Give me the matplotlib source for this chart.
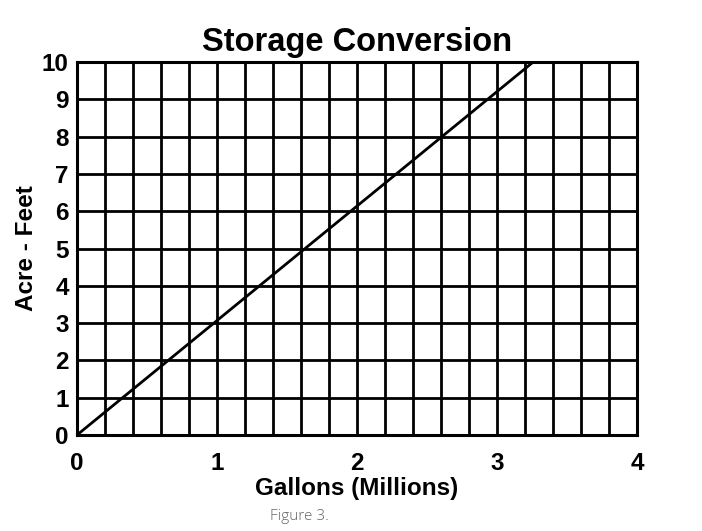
import matplotlib
matplotlib.use("Agg")
import matplotlib.pyplot as plt
import numpy as np

title = "Storage Conversion"
x_label = "Gallons (Millions)"
y_label = "Acre - Feet"
caption = "Figure 3."
gallons_millions = [0.0, 3.2585]
acre_feet = [0.0, 10.0]
x_ticks = [0, 1, 2, 3, 4]
y_ticks = list(range(0, 11))
x_minor = list(np.arange(0, 4.01, 0.2))

plt.rcParams['font.family'] = ['Liberation Sans', 'DejaVu Sans']

fig = plt.figure(figsize=(7.02, 5.31), dpi=100)
ax = fig.add_axes([0.1097, 0.1808, 0.7977, 0.7024])
ax.set_xlim(0, 4)
ax.set_ylim(0, 10)

for xv in x_minor:
    ax.axvline(xv, color='black', lw=2.0, zorder=1)
for yv in y_ticks:
    ax.axhline(yv, color='black', lw=2.0, zorder=1)

ax.plot(gallons_millions, acre_feet, color='black', lw=2.0, zorder=3)

ax.set_xticks(x_ticks)
ax.set_yticks(y_ticks)
ax.set_xticklabels([str(t) for t in x_ticks], fontsize=17.5, fontweight='bold')
ax.set_yticklabels([str(t) for t in y_ticks], fontsize=17.5, fontweight='bold')
ax.tick_params(axis='both', length=0)
ax.tick_params(axis='x', pad=12)
ax.tick_params(axis='y', pad=6)
for s in ax.spines.values():
    s.set_linewidth(2.2)

ax.set_xlabel(x_label, fontsize=17.5, fontweight='bold', labelpad=1.5)
ax.set_ylabel(y_label, fontsize=17.5, fontweight='bold', labelpad=3)
ax.set_title(title, fontsize=23.5, fontweight='bold', pad=8)

fig.text(299 / 702, 1 - 516 / 531, caption, fontsize=11, color='#666666',
         ha='center', va='center', family=['Open Sans', 'DejaVu Sans'], fontweight='light')

fig.savefig("out.png", dpi=100)
